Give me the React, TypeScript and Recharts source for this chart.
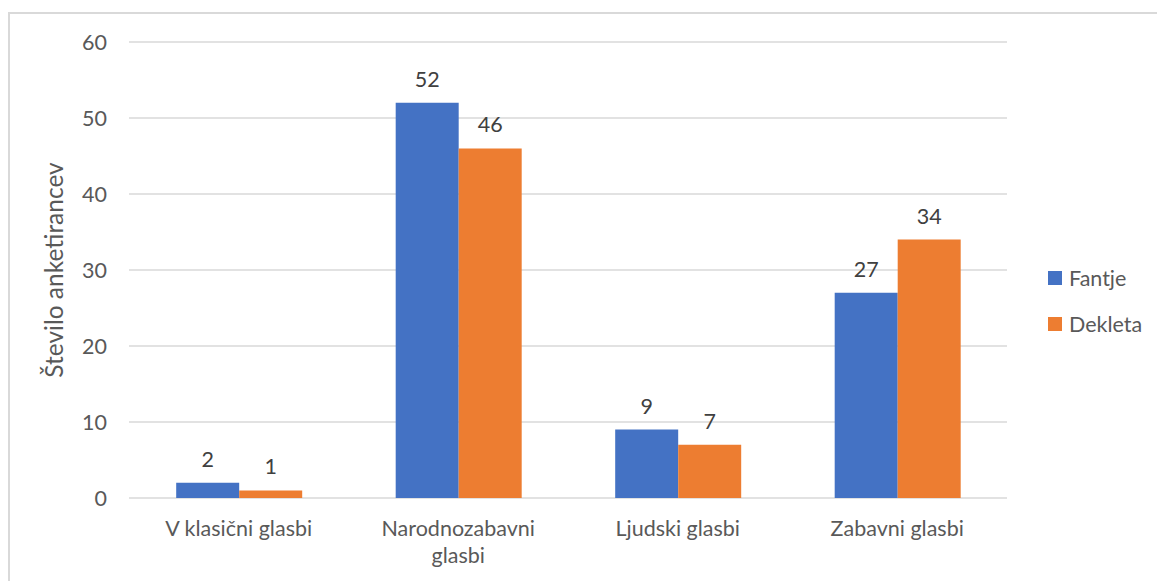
import React from "react";
import { BarChart, Bar, XAxis, YAxis, CartesianGrid, LabelList, Label } from "recharts";

const categories = ["V klasični glasbi", "Narodnozabavni glasbi", "Ljudski glasbi", "Zabavni glasbi"];
const fantje = [2, 52, 9, 27];
const dekleta = [1, 46, 7, 34];
const yTicks = [0, 10, 20, 30, 40, 50, 60];
const yTitle = "Število anketirancev";

const BLUE = "#4472C4";
const ORANGE = "#ED7D31";
const FONT = "Lato, 'Noto Sans', sans-serif";
const FS = 21.5;

const data = categories.map((name, i) => ({
  name,
  Fantje: fantje[i],
  Dekleta: dekleta[i],
}));

// break long category names onto two lines, like the original
function XTick(props: any) {
  const { x, y, payload } = props;
  const label: string = payload.value;
  const cut = label.lastIndexOf(" ");
  const lines = label.length > 18 ? [label.slice(0, cut), label.slice(cut + 1)] : [label];
  return (
    <text x={x} y={y} textAnchor="middle" fill="#595959" fontSize={FS} fontFamily={FONT}>
      {lines.map((l, i) => (
        <tspan key={i} x={x} dy={i === 0 ? 30 : 27}>
          {l}
        </tspan>
      ))}
    </text>
  );
}

function YTitle(props: any) {
  const { viewBox } = props;
  const cx = 53;
  const cy = viewBox.y + viewBox.height / 2;
  return (
    <text
      x={cx}
      y={cy}
      transform={`rotate(-90, ${cx}, ${cy})`}
      textAnchor="middle"
      dominantBaseline="central"
      fill="#595959"
      fontSize={24.5}
      fontFamily={FONT}
    >
      {yTitle}
    </text>
  );
}

function Legend() {
  const items = [
    { name: "Fantje", color: BLUE },
    { name: "Dekleta", color: ORANGE },
  ];
  return (
    <div style={{ position: "absolute", left: 1048, top: 265, fontFamily: FONT }}>
      {items.map((it) => (
        <div key={it.name} style={{ display: "flex", alignItems: "center", height: 26, marginBottom: 20 }}>
          <div style={{ width: 14, height: 14, background: it.color, marginRight: 7 }} />
          <span style={{ fontSize: FS, color: "#595959" }}>{it.name}</span>
        </div>
      ))}
    </div>
  );
}

export default function App() {
  return (
    <div style={{ position: "fixed", left: 0, top: 0, width: 1157, height: 581, background: "#fff", overflow: "hidden" }}>
      <div
        style={{
          position: "absolute",
          left: 8,
          top: 12,
          width: 1200,
          height: 700,
          borderLeft: "2px solid #d9d9d9",
          borderTop: "2px solid #d9d9d9",
        }}
      />
      <BarChart
        width={1157}
        height={581}
        data={data}
        margin={{ top: 42, right: 150, bottom: 0, left: 0 }}
        barCategoryGap="21.5%"
        barGap={0}
      >
        <CartesianGrid vertical={false} stroke="#d9d9d9" strokeWidth={1.3} />
        <XAxis
          dataKey="name"
          height={83}
          axisLine={false}
          tickLine={false}
          tick={<XTick />}
          interval={0}
        />
        <YAxis
          width={129}
          domain={[0, 60]}
          ticks={yTicks}
          axisLine={false}
          tickLine={false}
          tickSize={0}
          tickMargin={22}
          tick={{ fill: "#595959", fontSize: FS, fontFamily: FONT }}
        >
          <Label content={<YTitle />} />
        </YAxis>
        <Bar dataKey="Fantje" fill={BLUE} isAnimationActive={false}>
          <LabelList dataKey="Fantje" position="top" offset={16} fill="#404040" fontSize={FS} fontFamily={FONT} />
        </Bar>
        <Bar dataKey="Dekleta" fill={ORANGE} isAnimationActive={false}>
          <LabelList dataKey="Dekleta" position="top" offset={16} fill="#404040" fontSize={FS} fontFamily={FONT} />
        </Bar>
      </BarChart>
      <Legend />
    </div>
  );
}
